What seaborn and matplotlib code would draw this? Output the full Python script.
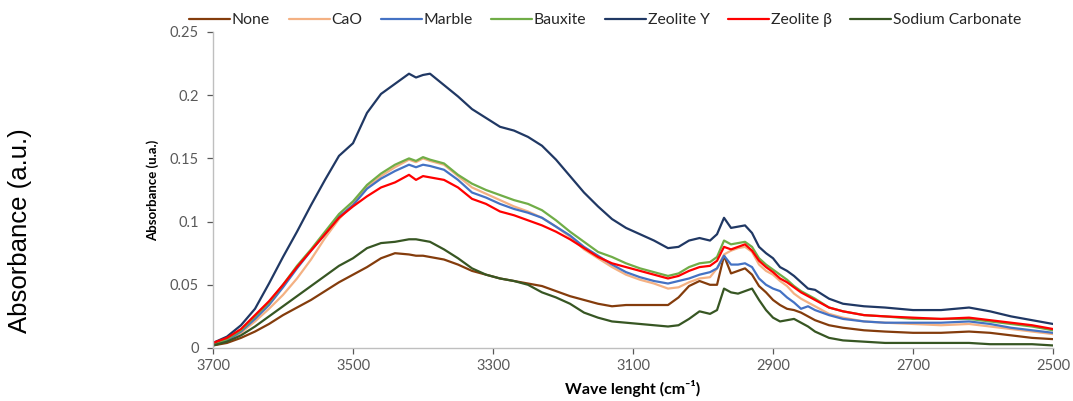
import matplotlib
matplotlib.use("Agg")
import matplotlib.pyplot as plt
import seaborn as sns
import pandas as pd

wavenumber = [3700, 3680, 3660, 3640, 3620, 3600, 3580, 3560, 3540, 3520, 3500, 3480, 3460, 3440, 3420, 3410,
              3400, 3390, 3370, 3350, 3330, 3310, 3290, 3270, 3250, 3230, 3210, 3190, 3170, 3150, 3130, 3110,
              3090, 3070, 3050, 3035, 3020, 3005, 2990, 2980, 2970, 2960, 2950, 2940, 2930, 2920, 2910, 2900,
              2890, 2880, 2870, 2860, 2850, 2840, 2820, 2800, 2770, 2740, 2700, 2660, 2620, 2590, 2560, 2530, 2500]

none = [0.002, 0.004, 0.008, 0.013, 0.019, 0.026, 0.032, 0.038, 0.045, 0.052, 0.058, 0.064, 0.071, 0.075, 0.074, 0.073,
        0.073, 0.072, 0.070, 0.066, 0.061, 0.058, 0.055, 0.053, 0.051, 0.049, 0.045, 0.041, 0.038, 0.035, 0.033, 0.034,
        0.034, 0.034, 0.034, 0.040, 0.049, 0.053, 0.050, 0.050, 0.073, 0.059, 0.061, 0.063, 0.058, 0.049, 0.044, 0.038,
        0.034, 0.031, 0.030, 0.028, 0.025, 0.022, 0.018, 0.016, 0.014, 0.013, 0.012, 0.012, 0.013, 0.012, 0.010, 0.008, 0.007]

cao = [0.003, 0.006, 0.012, 0.021, 0.031, 0.042, 0.055, 0.070, 0.087, 0.102, 0.114, 0.127, 0.136, 0.143, 0.149, 0.147,
       0.150, 0.148, 0.145, 0.136, 0.127, 0.122, 0.117, 0.112, 0.108, 0.103, 0.096, 0.088, 0.078, 0.071, 0.064, 0.058,
       0.054, 0.051, 0.047, 0.048, 0.052, 0.055, 0.056, 0.063, 0.074, 0.077, 0.079, 0.080, 0.076, 0.066, 0.061, 0.058,
       0.053, 0.049, 0.043, 0.039, 0.036, 0.033, 0.027, 0.024, 0.021, 0.020, 0.019, 0.018, 0.019, 0.017, 0.015, 0.013, 0.011]

marble = [0.003, 0.006, 0.013, 0.023, 0.034, 0.048, 0.063, 0.077, 0.090, 0.104, 0.113, 0.126, 0.134, 0.140, 0.145, 0.143,
          0.145, 0.144, 0.141, 0.133, 0.123, 0.119, 0.114, 0.110, 0.107, 0.103, 0.096, 0.089, 0.080, 0.073, 0.066, 0.060,
          0.056, 0.053, 0.051, 0.053, 0.055, 0.058, 0.060, 0.063, 0.073, 0.066, 0.066, 0.067, 0.064, 0.055, 0.050, 0.047,
          0.045, 0.040, 0.036, 0.031, 0.033, 0.030, 0.026, 0.023, 0.021, 0.020, 0.020, 0.020, 0.021, 0.019, 0.016, 0.014, 0.012]

bauxite = [0.003, 0.007, 0.014, 0.025, 0.036, 0.050, 0.065, 0.078, 0.092, 0.106, 0.116, 0.129, 0.138, 0.145, 0.150, 0.148,
           0.151, 0.149, 0.146, 0.137, 0.130, 0.125, 0.121, 0.117, 0.114, 0.109, 0.101, 0.092, 0.084, 0.076, 0.072, 0.067,
           0.063, 0.060, 0.057, 0.059, 0.064, 0.067, 0.068, 0.072, 0.085, 0.082, 0.083, 0.084, 0.080, 0.071, 0.066, 0.062,
           0.058, 0.054, 0.049, 0.045, 0.042, 0.039, 0.032, 0.029, 0.026, 0.025, 0.023, 0.023, 0.023, 0.021, 0.019, 0.017, 0.014]

zeolite_y = [0.004, 0.009, 0.018, 0.031, 0.051, 0.072, 0.092, 0.113, 0.133, 0.152, 0.162, 0.186, 0.201, 0.209, 0.217, 0.214,
             0.216, 0.217, 0.208, 0.199, 0.189, 0.182, 0.175, 0.172, 0.167, 0.160, 0.149, 0.136, 0.123, 0.112, 0.102, 0.095,
             0.090, 0.085, 0.079, 0.080, 0.085, 0.087, 0.085, 0.090, 0.103, 0.095, 0.096, 0.097, 0.091, 0.080, 0.075, 0.071,
             0.064, 0.061, 0.057, 0.052, 0.047, 0.046, 0.039, 0.035, 0.033, 0.032, 0.030, 0.030, 0.032, 0.029, 0.025, 0.022, 0.019]

zeolite_beta = [0.004, 0.008, 0.015, 0.026, 0.037, 0.050, 0.064, 0.077, 0.090, 0.103, 0.112, 0.120, 0.127, 0.131, 0.137, 0.133,
                0.136, 0.135, 0.133, 0.127, 0.118, 0.114, 0.108, 0.105, 0.101, 0.097, 0.092, 0.086, 0.079, 0.072, 0.067, 0.064,
                0.061, 0.058, 0.055, 0.057, 0.061, 0.064, 0.065, 0.069, 0.080, 0.078, 0.080, 0.082, 0.077, 0.069, 0.064, 0.060,
                0.055, 0.052, 0.048, 0.044, 0.041, 0.038, 0.032, 0.029, 0.026, 0.025, 0.024, 0.023, 0.024, 0.022, 0.020, 0.018, 0.015]

sodium_carbonate = [0.002, 0.005, 0.010, 0.017, 0.025, 0.033, 0.041, 0.049, 0.057, 0.065, 0.071, 0.079, 0.083, 0.084, 0.086, 0.086,
                    0.085, 0.084, 0.078, 0.071, 0.063, 0.058, 0.055, 0.053, 0.050, 0.044, 0.040, 0.035, 0.028, 0.024, 0.021, 0.020,
                    0.019, 0.018, 0.017, 0.018, 0.023, 0.029, 0.027, 0.030, 0.047, 0.044, 0.043, 0.045, 0.047, 0.038, 0.030, 0.024,
                    0.021, 0.022, 0.023, 0.020, 0.017, 0.013, 0.008, 0.006, 0.005, 0.004, 0.004, 0.004, 0.004, 0.003, 0.003, 0.003, 0.002]

series_names = ["None", "CaO", "Marble", "Bauxite", "Zeolite Y", "Zeolite \u03b2", "Sodium Carbonate"]
series_values = [none, cao, marble, bauxite, zeolite_y, zeolite_beta, sodium_carbonate]
series_colors = ["#843C0C", "#F4B183", "#4472C4", "#70AD47", "#203864", "#FF0000", "#375623"]

y_ticks = [0, 0.05, 0.1, 0.15, 0.2, 0.25]
y_tick_labels = ["0", "0.05", "0.1", "0.15", "0.2", "0.25"]
x_ticks = [3700, 3500, 3300, 3100, 2900, 2700, 2500]
x_tick_labels = ["3700", "3500", "3300", "3100", "2900", "2700", "2500"]

rows = []
for name, vals in zip(series_names, series_values):
    for w, v in zip(wavenumber, vals):
        rows.append({"wavenumber": w, "absorbance": v, "sample": name})
df = pd.DataFrame(rows)

sns.set_theme(style="white")
plt.rcParams["font.family"] = ["Lato", "DejaVu Sans"]

fig = plt.figure(figsize=(10.73, 4.01), dpi=100)
ax = fig.add_axes([0.1985, 0.1322, 0.9814 - 0.1985, 0.9202 - 0.1322])

sns.lineplot(data=df, x="wavenumber", y="absorbance", hue="sample", hue_order=series_names,
             palette=dict(zip(series_names, series_colors)), linewidth=1.6, ax=ax, legend=True, sort=False)

ax.set_xlim(3700, 2500)
ax.set_ylim(0, 0.25)
ax.set_xticks(x_ticks)
ax.set_xticklabels(x_tick_labels)
ax.set_yticks(y_ticks)
ax.set_yticklabels(y_tick_labels)
ax.tick_params(axis="both", colors="#595959", labelsize=10.5, length=4, width=0.9, direction="out",
               left=True, bottom=True)
ax.tick_params(axis="x", pad=4)
ax.tick_params(axis="y", pad=6)
for s in ["top", "right"]:
    ax.spines[s].set_visible(False)
for s in ["left", "bottom"]:
    ax.spines[s].set_color("#BFBFBF")
    ax.spines[s].set_linewidth(1.0)
ax.grid(False)

ax.set_xlabel("")
ax.set_ylabel("Absorbance (u.a.)", fontsize=9.5, fontweight="bold", color="black", labelpad=8)

fig.text(0.59, 0.03, "Wave lenght (cm\u207b\u00b9)", ha="center", va="center", fontsize=11.5,
         fontweight="bold", color="black", family=["Lato", "DejaVu Sans"])

fig.text(0.019, 0.424, "Absorbance (a.u.)", rotation=90, ha="center", va="center", fontsize=18.5,
         color="black", family=["Liberation Sans", "DejaVu Sans"])

handles, labels = ax.get_legend_handles_labels()
ax.get_legend().remove()
fig.legend(handles, labels, loc="center", bbox_to_anchor=(0.564, 0.95), ncol=7, frameon=False,
           fontsize=11.3, handlelength=2.6, handletextpad=0.1, columnspacing=1.2, borderaxespad=0)

fig.savefig("out.png", dpi=100, facecolor="white")
